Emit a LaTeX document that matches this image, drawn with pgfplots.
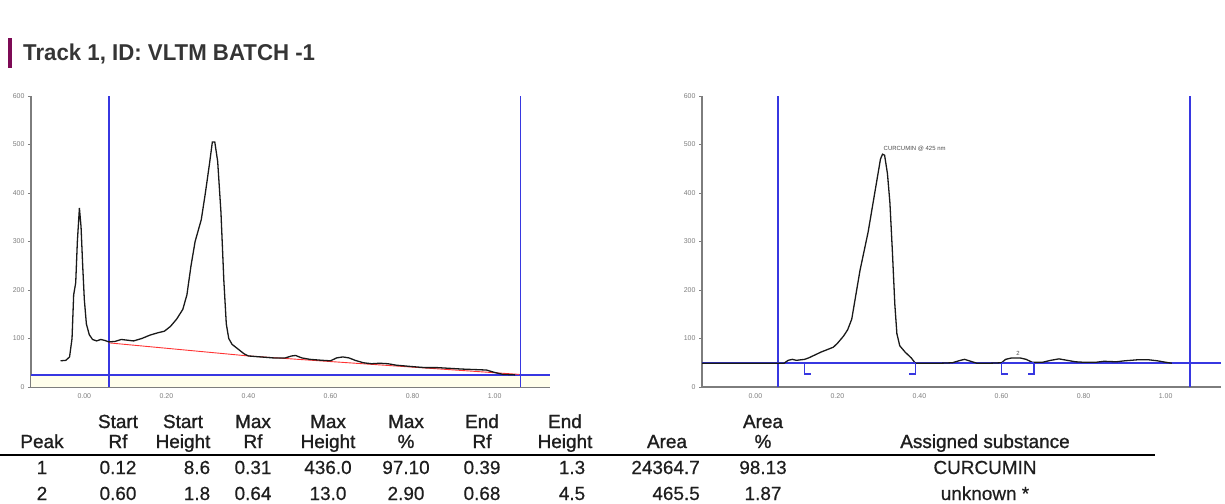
\documentclass[border=0pt]{standalone}
\usepackage{pgfplots}
\pgfplotsset{compat=1.18}
\usepackage{fontspec}
\setmainfont{Liberation Sans}
\newfontfamily\titlefont[FakeStretch=0.97]{Liberation Sans}
\newfontfamily\headfont[FakeBold=1.2]{Liberation Sans}
\newfontfamily\rowfont[FakeBold=0.5]{Liberation Sans}

\definecolor{scanblue}{RGB}{55,55,225}
\definecolor{axgray}{RGB}{125,125,125}
\definecolor{barcol}{RGB}{125,10,85}
\definecolor{txt}{RGB}{30,30,30}

\pgfplotsset{
  densito/.style={
    scale only axis, width=519bp, height=291bp,
    xmin=-0.13, xmax=1.135, ymin=0, ymax=600,
    axis x line=bottom, axis y line=left,
    axis line style={axgray, line width=1.8bp, -},
    xtick={0,0.2,0.4,0.6,0.8,1.0},
    xticklabels={0.00,0.20,0.40,0.60,0.80,1.00},
    ytick={0,100,200,300,400,500,600},
    tick label style={font=\fontsize{7}{8}\selectfont, text=axgray},
    /pgf/number format/assume math mode=true,
    ytick style={axgray, line width=0.6bp},
    xtick style={draw=none},
    major tick length=3bp, tick align=outside,
    anchor=south west,
  },
  trace/.style={color=black!90, line width=1.3bp, no marks},
  scanline/.style={color=scanblue, line width=1.7bp, no marks},
}

\begin{document}
\begin{tikzpicture}
\path[use as bounding box] (0,0) rectangle (1225bp,-504bp);

% title
\fill[barcol] (8bp,-38bp) rectangle (12bp,-68bp);
\node[anchor=base west, text=txt!90, font=\titlefont\bfseries\fontsize{23}{26}\selectfont, inner sep=0pt]
  at (23bp,-60bp) {Track 1, ID: VLTM BATCH -1};

% left densitogram (raw scan with baseline)
\begin{axis}[densito, at={(31bp,-387bp)}]
\fill[yellow!8] (axis cs:-0.13,0) rectangle (axis cs:1.135,25);
\addplot[scanline] coordinates {(-0.13,25) (1.135,25)};
\addplot[scanline] coordinates {(0.06,0) (0.06,600)};
\addplot[scanline] coordinates {(1.063,600) (1.063,0)};
\addplot[color=red!80, line width=0.9bp, no marks] coordinates {(0.06,91) (0.40,64) (1.06,26)};
\addplot[trace] coordinates {
(-0.058,54) (-0.045,55) (-0.036,62) (-0.030,100) (-0.026,190) (-0.021,215)
(-0.017,300) (-0.012,369) (-0.008,330) (-0.004,250) (0.000,180) (0.005,130)
(0.012,108) (0.020,98) (0.030,95) (0.040,98) (0.050,96) (0.060,93)
(0.075,94) (0.090,98) (0.100,97) (0.120,95) (0.140,100) (0.160,107)
(0.180,112) (0.195,115) (0.210,125) (0.225,140) (0.240,160) (0.250,190)
(0.260,250) (0.270,300) (0.285,345) (0.295,400) (0.305,460) (0.312,505)
(0.318,505) (0.325,465) (0.333,360) (0.340,220) (0.346,130) (0.352,100)
(0.360,88) (0.375,78) (0.390,68) (0.400,64) (0.430,62) (0.460,60)
(0.490,60) (0.505,64) (0.515,65) (0.530,60) (0.550,57) (0.580,55)
(0.600,54) (0.615,60) (0.630,62) (0.645,60) (0.660,55) (0.680,50)
(0.700,48) (0.720,49) (0.740,48) (0.760,45) (0.800,42) (0.830,40)
(0.860,40) (0.880,39) (0.920,37) (0.950,36) (0.980,35) (1.000,30)
(1.020,26) (1.050,25)};
\end{axis}

% right densitogram (baseline corrected, peaks assigned)
\begin{axis}[densito, at={(702bp,-387bp)}]
\addplot[scanline] coordinates {(-0.13,49) (1.135,49)};
\addplot[scanline] coordinates {(0.055,0) (0.055,600)};
\addplot[scanline] coordinates {(1.06,0) (1.06,600)};
\addplot[trace] coordinates {
(-0.130,49) (0.070,49) (0.080,55) (0.090,57) (0.100,55) (0.110,56)
(0.120,57) (0.130,60) (0.145,66) (0.160,72) (0.175,77) (0.190,82)
(0.200,90) (0.215,105) (0.225,118) (0.235,140) (0.245,190) (0.255,240)
(0.265,280) (0.275,320) (0.285,370) (0.295,420) (0.305,470) (0.310,480)
(0.315,478) (0.322,440) (0.328,380) (0.334,280) (0.340,170) (0.345,110)
(0.352,85) (0.365,72) (0.380,60) (0.390,49) (0.450,49) (0.480,50)
(0.500,55) (0.510,57) (0.525,53) (0.540,49) (0.570,49) (0.600,50)
(0.610,57) (0.625,60) (0.645,60) (0.660,57) (0.675,51) (0.700,51)
(0.720,55) (0.740,58) (0.760,55) (0.780,52) (0.800,51) (0.830,51)
(0.850,53) (0.880,52) (0.900,54) (0.930,56) (0.960,56) (0.980,54)
(1.000,51) (1.015,49)};
% peak baselines and start/end brackets
\addplot[scanline] coordinates {(0.12,49) (0.39,49)};
\addplot[scanline] coordinates {(0.135,27) (0.12,27) (0.12,49)};
\addplot[scanline] coordinates {(0.375,27) (0.39,27) (0.39,49)};
\addplot[scanline] coordinates {(0.60,49) (0.68,49)};
\addplot[scanline] coordinates {(0.615,27) (0.60,27) (0.60,49)};
\addplot[scanline] coordinates {(0.665,27) (0.68,27) (0.68,49)};
\node[anchor=south west, inner sep=1pt, text=black!70, font=\fontsize{6}{7}\selectfont]
  at (axis cs:0.31,484) {CURCUMIN @ 425 nm};
\node[anchor=south, inner sep=1pt, text=black!70, font=\fontsize{6}{7}\selectfont]
  at (axis cs:0.64,62) {2};
\end{axis}

% peak table
\begin{scope}[every node/.style={anchor=base, inner sep=0pt, text=txt, font=\headfont\fontsize{19}{22}\selectfont}]
\foreach \x/\a/\b in {42//Peak, 118/Start/Rf, 183/Start/Height, 253/Max/Rf,
    328/Max/Height, 406/Max/\%, 482/End/Rf, 565/End/Height, 667//Area,
    763/Area/\%, 985//Assigned substance} {
  \node at (\x bp,-428bp) {\a};
  \node at (\x bp,-448bp) {\b};
}
\end{scope}
\draw[black, line width=1.4bp] (0bp,-455bp) -- (1155bp,-455bp);
\begin{scope}[every node/.style={anchor=base, inner sep=0pt, text=txt, font=\rowfont\fontsize{19}{22}\selectfont}]
\foreach \x/\a/\b in {42/1/2, 118/0.12/0.60, 197/8.6/1.8, 253/0.31/0.64,
    328/436.0/13.0, 406/97.10/2.90, 482/0.39/0.68, 572/1.3/4.5,
    763/98.13/1.87, 985/CURCUMIN/unknown *} {
  \node at (\x bp,-474bp) {\a};
  \node at (\x bp,-500bp) {\b};
}
\node[anchor=base east] at (700bp,-474bp) {24364.7};
\node[anchor=base east] at (700bp,-500bp) {465.5};
\end{scope}
\end{tikzpicture}
\end{document}
